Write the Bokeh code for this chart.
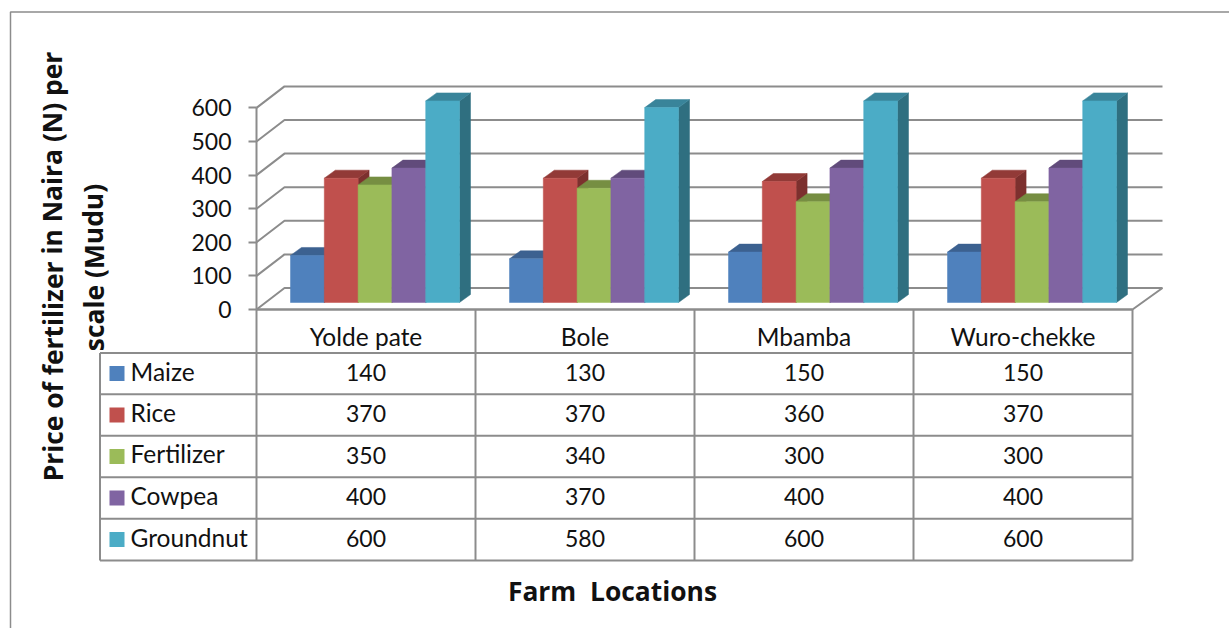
from bokeh.core.properties import value
from bokeh.embed import file_html
from bokeh.models import FixedTicker, LinearAxis, Range1d
from bokeh.plotting import figure
from bokeh.resources import INLINE

# Prices per farm location
locations = ["Yolde pate", "Bole", "Mbamba", "Wuro-chekke"]
crops = ["Maize", "Rice", "Fertilizer", "Cowpea", "Groundnut"]
maize = [140, 130, 150, 150]
rice = [370, 370, 360, 370]
fertilizer = [350, 340, 300, 300]
cowpea = [400, 370, 400, 400]
groundnut = [600, 580, 600, 600]
y_ticks = [0, 100, 200, 300, 400, 500, 600]

series = [maize, rice, fertilizer, cowpea, groundnut]
front_colors = ["#4F81BD", "#C0504D", "#9BBB59", "#8064A2", "#4BACC6"]
top_colors = ["#3C6190", "#923A37", "#768E42", "#614B7B", "#39849A"]
side_colors = ["#335379", "#7C302E", "#637838", "#523F68", "#2F6F80"]

GRID = "#8C8C8C"
FONT = "Lato"
TITLE_FONT = "Open Sans"
INK = "#111111"
W, H = 1229, 628

# Scale: one x unit is one location column, one y unit is one naira
PX_PER_CAT = 219.0
PX_PER_VAL = 201.6 / 600
X0_PX, Y0_PX = 256.0, 309.0


def xpx(px):
    return (px - X0_PX) / PX_PER_CAT


def ypx(px):
    return (Y0_PX - px) / PX_PER_VAL


p = figure(
    width=W, height=H, output_backend="svg", toolbar_location=None,
    x_range=Range1d(xpx(0), xpx(W)), y_range=Range1d(ypx(H), ypx(0)),
    min_border=0, outline_line_color=None, x_axis_type=None, y_axis_type=None,
)
p.xgrid.visible = False
p.ygrid.visible = False

# Outer chart frame: only its left and top edges fall inside the page
p.line([xpx(10), xpx(10), xpx(W)], [ypx(H), ypx(11.5), ypx(11.5)],
       line_color=GRID, line_width=1.5)

# Back wall, side wall and floor of the 3-D box
DEPTH_X = 28 / PX_PER_CAT
DEPTH_Y = 21.5 / PX_PER_VAL
n_cat = len(locations)
wall_x, wall_y = [], []
for t in y_ticks:
    wall_x.append([0, DEPTH_X, n_cat + DEPTH_X + 2 / PX_PER_CAT])
    wall_y.append([t, t + DEPTH_Y, t + DEPTH_Y])
wall_x.append([0, n_cat, n_cat + DEPTH_X + 2 / PX_PER_CAT])
wall_y.append([0, 0, DEPTH_Y])
p.multi_line(wall_x, wall_y, line_color=GRID, line_width=2)

# Bars, painted left to right so each one hides the side of the previous
GAP = 34 / PX_PER_CAT
BAR_W = 33.8 / PX_PER_CAT
BAR_DX = 11 / PX_PER_CAT
BAR_DY = 8 / PX_PER_VAL
BASE = 7 / PX_PER_VAL
for k, vals in enumerate(series):
    lefts = [c + GAP + k * BAR_W for c in range(n_cat)]
    rights = [l + BAR_W for l in lefts]
    tops = [v + BASE for v in vals]
    bottoms = [BASE] * n_cat
    p.patches(
        [[r, r + BAR_DX, r + BAR_DX, r] for r in rights],
        [[b, b + BAR_DY, t + BAR_DY, t] for b, t in zip(bottoms, tops)],
        fill_color=side_colors[k], line_color=side_colors[k], line_width=0.5,
    )
    p.patches(
        [[l, l + BAR_DX, r + BAR_DX, r] for l, r in zip(lefts, rights)],
        [[t, t + BAR_DY, t + BAR_DY, t] for t in tops],
        fill_color=top_colors[k], line_color=top_colors[k], line_width=0.5,
    )
    p.quad(left=lefts, right=rights, bottom=bottoms, top=tops,
           fill_color=front_colors[k], line_color=front_colors[k], line_width=0.5)

# Value axis on the front corner of the box
axis = LinearAxis(
    fixed_location=0, ticker=FixedTicker(ticks=y_ticks), bounds=(0, 600),
    axis_line_color=GRID, axis_line_width=2,
    major_tick_line_color=GRID, major_tick_line_width=2,
    major_tick_in=0, major_tick_out=8, minor_tick_line_color=None,
    major_label_text_font=FONT, major_label_text_font_size="23px",
    major_label_text_color=INK, major_label_standoff=17,
)
p.add_layout(axis, "left")

# Data table under the chart
row_px = [352.5, 393.7, 435.2, 476.7, 518.2, 560]
col_px = [256, 475, 694, 913, 1132]
LEGEND_LEFT = 99.5
h_x, h_y = [[0, n_cat]], [[0, 0]]
for r in row_px:
    h_x.append([xpx(LEGEND_LEFT), n_cat])
    h_y.append([ypx(r), ypx(r)])
v_x, v_y = [], []
for c in col_px:
    v_x.append([xpx(c), xpx(c)])
    v_y.append([0, ypx(row_px[-1])])
v_x.append([xpx(LEGEND_LEFT), xpx(LEGEND_LEFT)])
v_y.append([ypx(row_px[0]), ypx(row_px[-1])])
p.multi_line(h_x, h_y, line_color=GRID, line_width=2)
p.multi_line(v_x, v_y, line_color=GRID, line_width=2)

digit_style = dict(text_font=value(FONT), text_font_size="23px", text_color=INK)
word_style = dict(text_font=value(FONT), text_font_size="24.5px", text_color=INK)
p.text([c + 0.5 for c in range(n_cat)], [ypx(335.5)] * n_cat, text=locations,
       text_align="center", text_baseline="middle", **word_style)

for k, (name, vals) in enumerate(zip(crops, series)):
    mid = (row_px[k] + row_px[k + 1]) / 2
    yc = ypx(mid)
    p.text([c + 0.5 for c in range(n_cat)], [ypx(mid - 1)] * n_cat, text=[str(v) for v in vals],
           text_align="center", text_baseline="middle", **digit_style)
    p.text([xpx(130)], [ypx(mid - 2.5)], text=[name], text_align="left", text_baseline="middle", **word_style)
    p.quad(left=[xpx(109)], right=[xpx(124)], bottom=[yc - 7.5 / PX_PER_VAL],
           top=[yc + 7.5 / PX_PER_VAL], fill_color=front_colors[k], line_color=None)

# Axis titles
title_style = dict(text_font=value(TITLE_FONT), text_font_size="26.4px", text_font_style="bold",
                   text_color=INK, text_align="center", text_baseline="middle")
p.text([xpx(52)], [ypx(266)], text=["Price of fertilizer in Naira (N) per"], angle=1.5708, **title_style)
p.text([xpx(93)], [ypx(267)], text=["scale (Mudu)"], angle=1.5708, **title_style)
p.text([xpx(612)], [ypx(590)], text=["Farm\u00a0 Locations"], **title_style)

open("out.html", "w").write(file_html(p, INLINE))
